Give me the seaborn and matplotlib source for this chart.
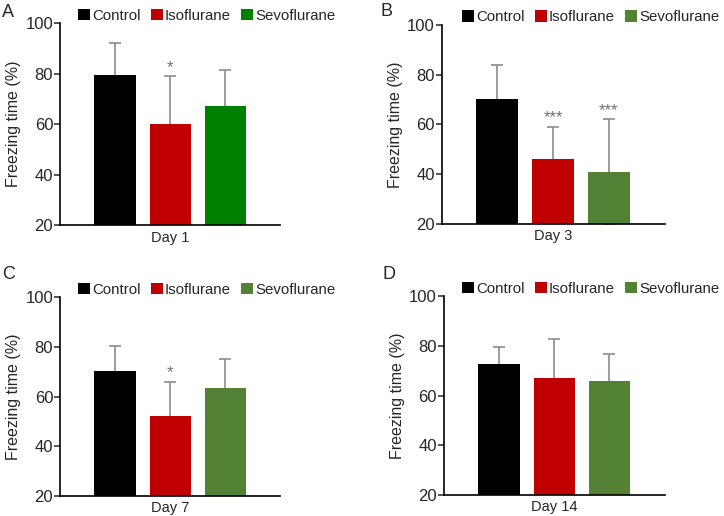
import matplotlib
matplotlib.use('Agg')
import matplotlib.pyplot as plt
import seaborn as sns
import pandas as pd
import numpy as np

# data
groups = ['Control', 'Isoflurane', 'Sevoflurane']
days = ['Day 1', 'Day 3', 'Day 7', 'Day 14']
panel_letters = ['A', 'B', 'C', 'D']
means = [
    [79.5, 60.0, 67.0],
    [70.0, 46.0, 41.0],
    [70.2, 52.0, 63.4],
    [72.6, 67.1, 66.0],
]
sds = [
    [12.5, 19.0, 14.5],
    [14.0, 13.0, 21.0],
    [10.3, 14.0, 11.6],
    [7.1, 15.8, 10.9],
]
stars = [
    ['', '*', ''],
    ['', '***', '***'],
    ['', '*', ''],
    ['', '', ''],
]
palette_a = ['#000000', '#C00000', '#008000']
palette_rest = ['#000000', '#C00000', '#548235']

sns.set_style('white')
plt.rcParams['font.family'] = ['Liberation Sans', 'DejaVu Sans']

fig = plt.figure(figsize=(7.24, 5.16), dpi=100)
# axes positions in figure fraction [left, bottom, width, height]
positions = [
    [0.083, 0.564, 0.304, 0.391],
    [0.610, 0.566, 0.308, 0.386],
    [0.083, 0.039, 0.304, 0.385],
    [0.613, 0.041, 0.305, 0.385],
]
legend_x = [0.082, 0.092, 0.082, 0.084]
letter_xy = [(0.003, 0.975), (0.525, 0.978), (0.003, 0.468), (0.528, 0.468)]

for i in range(4):
    ax = fig.add_axes(positions[i])
    df = pd.DataFrame({'group': groups, 'mean': means[i], 'sd': sds[i]})
    pal = palette_a if i == 0 else palette_rest
    sns.barplot(data=df, x='group', y='mean', hue='group', palette=pal,
                width=0.75, errorbar=None, ax=ax, legend=True,
                saturation=1, edgecolor='none', zorder=2)
    # symmetric bars drawn behind the bars, so only the upper half shows
    ax.errorbar(x=np.arange(3), y=df['mean'], yerr=df['sd'], fmt='none',
                ecolor='#8c8c8c', elinewidth=1.2, capsize=4, capthick=1.2,
                zorder=1)
    for j in range(3):
        if stars[i][j]:
            ax.text(j, df['mean'][j] + df['sd'][j] + 0.5, stars[i][j],
                    ha='center', va='bottom', fontsize=12, color='#707070')
    ax.set_ylim(20, 100)
    ax.set_xlim(-1.0, 3.0)
    ax.set_yticks([20, 40, 60, 80, 100])
    ax.set_xticks([])
    ax.tick_params(axis='y', which='major', left=True, length=4, width=1.1,
                   labelsize=12, pad=1)
    ax.set_ylabel('Freezing time (%)', fontsize=11.5, labelpad=3)
    ax.set_xlabel(days[i], fontsize=10.5, labelpad=4)
    for side in ['top', 'right']:
        ax.spines[side].set_visible(False)
    for side in ['left', 'bottom']:
        ax.spines[side].set_color('black')
        ax.spines[side].set_linewidth(1.2)
    sns.move_legend(ax, 'center left', bbox_to_anchor=(legend_x[i], 1.038),
                    ncol=3, frameon=False, title=None, fontsize=10.8,
                    handlelength=0.8, handleheight=0.8, handletextpad=0.12,
                    columnspacing=0.7, borderaxespad=0, borderpad=0)
    fig.text(letter_xy[i][0], letter_xy[i][1], panel_letters[i],
             fontsize=13, ha='left', va='center')

fig.savefig('out.png', dpi=100)
plt.close(fig)
